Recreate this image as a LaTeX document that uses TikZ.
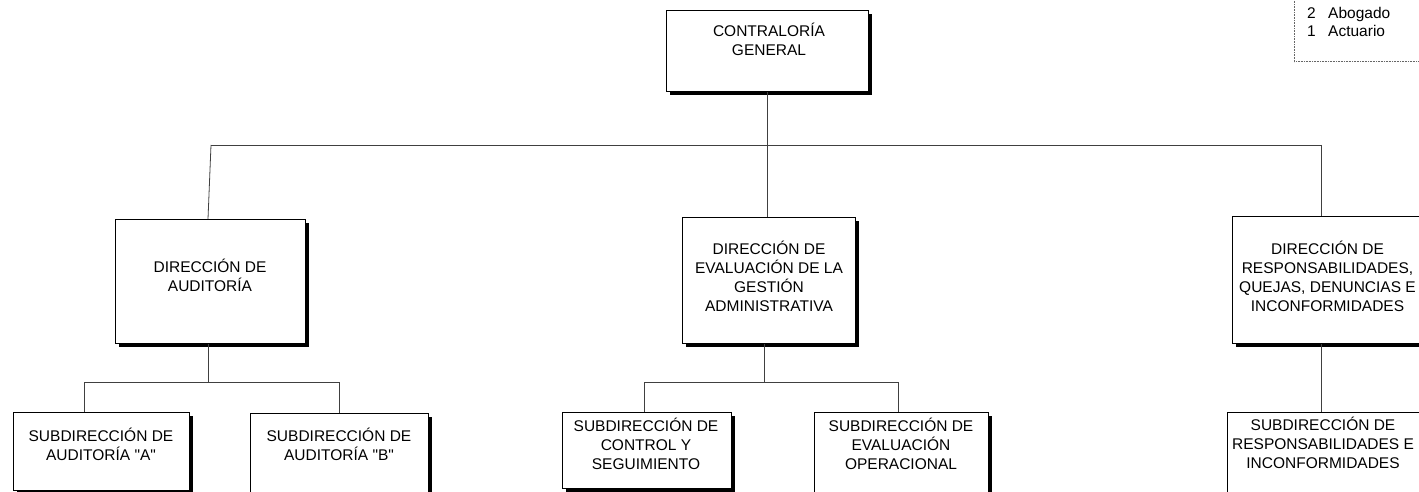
\documentclass[tikz,border=0pt]{standalone}
\usepackage{fontspec}
\setmainfont{Liberation Sans}[Ligatures=TeXOff]
\usetikzlibrary{shadows}

\tikzset{
  caja/.style={draw, line width=0.8pt, fill=white, inner sep=0pt, anchor=north west,
    drop shadow={shadow xshift=4pt, shadow yshift=-4pt, opacity=1, fill=black}},
  rotulo/.style={align=center, anchor=base, inner sep=0pt, font=\fontsize{15.5pt}{19pt}\selectfont},
  linea/.style={line width=0.8pt, black!75}
}

\begin{document}
\begin{tikzpicture}[x=1pt,y=-1pt]
    \useasboundingbox (0,0) rectangle (1419,492);
    \clip (0,0) rectangle (1419,492);

    % Leyenda
    \node[draw=black!60, densely dotted, line width=0.6pt, anchor=south west, minimum width=140pt, minimum height=100pt] (ley) at (1294,62) {};
    \node[rotulo, anchor=base west] (n2) at (1307,18.3) {2};
    \node[rotulo, anchor=base west] (abog) at (1328,18.3) {Abogado};
    \node[rotulo, anchor=base west] (n1) at (1307,36.7) {1};
    \node[rotulo, anchor=base west] (actu) at (1328,36.7) {Actuario};

    % Contraloría General (base = última línea)
    \node[caja, minimum width=202pt, minimum height=81pt] (cg) at (666,10) {};
    \node[rotulo] (cgt) at (769,56) {CONTRALORÍA\\GENERAL};

    % Direcciones
    \node[caja, minimum width=190pt, minimum height=124pt] (aud) at (115,219) {};
    \node[rotulo] (audt) at (210,291.7) {DIRECCIÓN DE\\AUDITORÍA};

    \node[caja, minimum width=173pt, minimum height=126pt] (eva) at (682,217) {};
    \node[rotulo] (evat) at (769,311) {DIRECCIÓN DE\\EVALUACIÓN DE LA\\GESTIÓN\\ADMINISTRATIVA};

    \node[caja, minimum width=192pt, minimum height=127pt] (res) at (1232,216) {};
    \node[rotulo] (rest) at (1327.5,311) {DIRECCIÓN DE\\RESPONSABILIDADES,\\QUEJAS, DENUNCIAS E\\INCONFORMIDADES};

    % Subdirecciones
    \node[caja, minimum width=176pt, minimum height=78pt] (subA) at (13,412) {};
    \node[rotulo] (subAt) at (101,460) {SUBDIRECCIÓN DE\\AUDITORÍA "A"};

    \node[caja, minimum width=178pt, minimum height=100pt] (subB) at (250,413) {};
    \node[rotulo] (subBt) at (339,460) {SUBDIRECCIÓN DE\\AUDITORÍA "B"};

    \node[caja, minimum width=169pt, minimum height=76pt] (subCS) at (562,412) {};
    \node[rotulo] (subCSt) at (646,469.3) {SUBDIRECCIÓN DE\\CONTROL Y\\SEGUIMIENTO};

    \node[caja, minimum width=174pt, minimum height=100pt] (subEO) at (814,412) {};
    \node[rotulo] (subEOt) at (901,469.3) {SUBDIRECCIÓN DE\\EVALUACIÓN\\OPERACIONAL};

    \node[caja, minimum width=200pt, minimum height=100pt] (subRes) at (1227,412) {};
    \node[rotulo] (subRest) at (1323,468) {SUBDIRECCIÓN DE\\RESPONSABILIDADES E\\INCONFORMIDADES};

    % Conectores
    \coordinate (b1L) at (211,145);
    \coordinate (b1R) at (1321,145);
    \coordinate (b2L) at (84,382);
    \coordinate (b2M) at (208,382);
    \coordinate (b2R) at (339,382);
    \coordinate (b3L) at (644,382);
    \coordinate (b3M) at (764,382);
    \coordinate (b3R) at (898,382);

    \draw[linea] (cg.south) -- (cg.south |- b1L);
    \draw[linea] (b1L) -- (b1R);
    \draw[linea] (b1L) -- (aud.north -| b2M);
    \draw[linea] (eva.north -| cg.south) -- (cg.south |- b1L);
    \draw[linea] (b1R) -- (res.north -| b1R);
    \draw[linea] (res.south -| b1R) -- (subRes.north -| b1R);

    \draw[linea] (aud.south -| b2M) -- (b2M);
    \draw[linea] (b2L) -- (b2R);
    \draw[linea] (b2L) -- (subA.north -| b2L);
    \draw[linea] (b2R) -- (subB.north -| b2R);

    \draw[linea] (eva.south -| b3M) -- (b3M);
    \draw[linea] (b3L) -- (b3R);
    \draw[linea] (b3L) -- (subCS.north -| b3L);
    \draw[linea] (b3R) -- (subEO.north -| b3R);
\end{tikzpicture}
\end{document}
